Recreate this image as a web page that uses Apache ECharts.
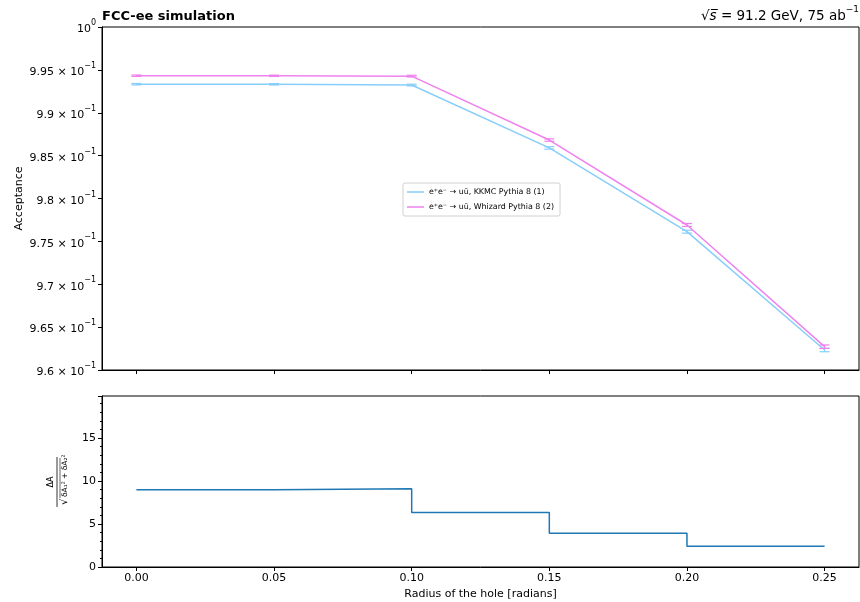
<!DOCTYPE html>
<html>
<head>
<meta charset="utf-8">
<script src="https://cdn.jsdelivr.net/npm/echarts@6/dist/echarts.min.js"></script>
<style>
html,body{margin:0;padding:0;background:#fff;}
#c{width:860px;height:602px;}
</style>
</head>
<body>
<div id="c"></div>
<script>
// ---- data ----
const radius = [0.00, 0.05, 0.10, 0.15, 0.20, 0.25];
const accKKMC = [0.99333, 0.99332, 0.99323, 0.98590, 0.97613, 0.96233];
const accWhizard = [0.99432, 0.99431, 0.99427, 0.98682, 0.97691, 0.96272];
const errKKMC = [0.00008, 0.00008, 0.00010, 0.00014, 0.00017, 0.00020];
const errWhizard = [0.00008, 0.00008, 0.00010, 0.00014, 0.00017, 0.00020];
const pull = [9.0, 9.1, 6.35, 3.94, 2.42];
const xTicks = [0.00, 0.05, 0.10, 0.15, 0.20, 0.25];
const seriesNames = ['e\u207Ae\u207B \u2192 u\u016B, KKMC Pythia 8 (1)', 'e\u207Ae\u207B \u2192 u\u016B, Whizard Pythia 8 (2)'];
const colors = ['#87cefa', '#ee82ee'];
const stepColor = '#1f77b4';

const FONT = 'DejaVu Sans';
const chart = echarts.init(document.getElementById('c'), null, {renderer: 'canvas'});

function pairs(xs, ys) { return xs.map((x, i) => [x, ys[i]]); }
function errData(xs, ys, es) { return xs.map((x, i) => [x, ys[i], es[i]]); }
const stepData = radius.map((x, i) => [x, pull[Math.min(i, pull.length - 1)]]);

function errRender(color) {
  return function (params, api) {
    const x = api.value(0), y = api.value(1), e = api.value(2);
    const lo = api.coord([x, y - e]);
    const hi = api.coord([x, y + e]);
    const hw = 5;
    const st = {stroke: color, lineWidth: 1.2};
    return {
      type: 'group',
      children: [
        {type: 'line', shape: {x1: lo[0], y1: lo[1], x2: hi[0], y2: hi[1]}, style: st},
        {type: 'line', shape: {x1: lo[0] - hw, y1: lo[1], x2: lo[0] + hw, y2: lo[1]}, style: st},
        {type: 'line', shape: {x1: hi[0] - hw, y1: hi[1], x2: hi[0] + hw, y2: hi[1]}, style: st}
      ]
    };
  };
}

function yFmt(v) {
  if (Math.abs(v - 1) < 1e-9) return '{m|10}{e|0}';
  const mant = parseFloat((v * 10).toFixed(3)).toString();
  return '{m|' + mant + ' \u00D7 10}{e|\u22121}';
}

const axisLineStyle = {color: '#000', width: 1};
const labelStyle = {color: '#000', fontFamily: FONT, fontSize: 11};

const option = {
  animation: false,
  backgroundColor: '#fff',
  grid: [
    {left: 102, top: 27, width: 757, height: 343, show: true, borderColor: '#000', borderWidth: 1, containLabel: false, outerBoundsMode: 'none'},
    {left: 102, top: 396, width: 757, height: 171, show: true, borderColor: '#000', borderWidth: 1, containLabel: false, outerBoundsMode: 'none'}
  ],
  legend: {
    data: seriesNames.map(n => ({name: n, icon: 'rect'})),
    left: 403, top: 183,
    orient: 'vertical',
    itemWidth: 17, itemHeight: 1.5, itemGap: 7,
    padding: [5, 6, 5, 4],
    backgroundColor: '#fff',
    borderColor: '#d0d0d0', borderWidth: 1, borderRadius: 2,
    textStyle: {fontFamily: FONT, fontSize: 7.9, color: '#000'}
  },
  xAxis: [
    {
      gridIndex: 0, type: 'value', min: -0.0125, max: 0.2625,
      axisLine: {show: true, onZero: false, lineStyle: axisLineStyle},
      axisTick: {show: true, length: 4, customValues: xTicks, lineStyle: axisLineStyle},
      axisLabel: {show: false, customValues: xTicks},
      splitLine: {show: false}
    },
    {
      gridIndex: 1, type: 'value', min: -0.0125, max: 0.2625,
      axisLine: {show: true, onZero: false, lineStyle: axisLineStyle},
      axisTick: {show: true, length: 4, customValues: xTicks, lineStyle: axisLineStyle},
      axisLabel: Object.assign({customValues: xTicks, margin: 6, formatter: v => v.toFixed(2)}, labelStyle),
      splitLine: {show: false},
      name: 'Radius of the hole [radians]', nameLocation: 'middle', nameGap: 22, nameMoveOverlap: false,
      nameTextStyle: {fontFamily: FONT, fontSize: 11, color: '#000'}
    }
  ],
  yAxis: [
    {
      gridIndex: 0, type: 'value', min: 0.96, max: 1.0, interval: 0.005,
      axisLine: {show: true, onZero: false, lineStyle: axisLineStyle},
      axisTick: {show: true, length: 4, lineStyle: axisLineStyle},
      axisLabel: {
        margin: 6, formatter: yFmt,
        rich: {
          m: {fontFamily: FONT, fontSize: 11, color: '#000', lineHeight: 16, verticalAlign: 'bottom'},
          e: {fontFamily: FONT, fontSize: 8, color: '#000', lineHeight: 16, verticalAlign: 'top'}
        }
      },
      splitLine: {show: false},
      name: 'Acceptance', nameLocation: 'middle', nameGap: 77, nameRotate: 90, nameMoveOverlap: false,
      nameTextStyle: {fontFamily: FONT, fontSize: 11, color: '#000'}
    },
    {
      gridIndex: 1, type: 'value', min: 0, max: 19.9, interval: 5,
      axisLine: {show: true, onZero: false, lineStyle: axisLineStyle},
      axisTick: {show: true, length: 4, lineStyle: axisLineStyle},
      minorTick: {show: true, splitNumber: 5, length: 2, lineStyle: axisLineStyle},
      axisLabel: Object.assign({margin: 6, showMaxLabel: false}, labelStyle),
      splitLine: {show: false}
    }
  ],
  series: [
    {
      name: seriesNames[0], type: 'line', xAxisIndex: 0, yAxisIndex: 0,
      data: pairs(radius, accKKMC), symbol: 'none', color: colors[0],
      lineStyle: {color: colors[0], width: 1.5}, z: 2
    },
    {
      name: seriesNames[1], type: 'line', xAxisIndex: 0, yAxisIndex: 0,
      data: pairs(radius, accWhizard), symbol: 'none', color: colors[1],
      lineStyle: {color: colors[1], width: 1.5}, z: 3
    },
    {
      type: 'custom', xAxisIndex: 0, yAxisIndex: 0, data: errData(radius, accKKMC, errKKMC),
      renderItem: errRender(colors[0]), z: 2, encode: {x: 0, y: 1}
    },
    {
      type: 'custom', xAxisIndex: 0, yAxisIndex: 0, data: errData(radius, accWhizard, errWhizard),
      renderItem: errRender(colors[1]), z: 3, encode: {x: 0, y: 1}
    },
    {
      type: 'line', xAxisIndex: 1, yAxisIndex: 1, data: stepData, step: 'end',
      symbol: 'none', lineStyle: {color: stepColor, width: 1.5}, color: stepColor
    }
  ],
  graphic: [
    {
      type: 'text', left: 102, top: 10,
      style: {text: 'FCC-ee simulation', fontFamily: FONT, fontSize: 13, fontWeight: 'bold', fill: '#000'}
    },
    {
      type: 'text', right: 1, top: 5,
      style: {
        text: '{r|\u221A}{s|s\u0305}{n| = 91.2 GeV, 75 ab}{e|\u22121}',
        rich: {
          r: {fontFamily: FONT, fontSize: 13.5, fill: '#000', lineHeight: 18, verticalAlign: 'bottom'},
          s: {fontFamily: FONT, fontSize: 13.5, fontStyle: 'italic', fill: '#000', lineHeight: 18, verticalAlign: 'bottom'},
          n: {fontFamily: FONT, fontSize: 13.5, fill: '#000', lineHeight: 18, verticalAlign: 'bottom'},
          e: {fontFamily: FONT, fontSize: 9, fill: '#000', lineHeight: 18, verticalAlign: 'top'}
        }
      }
    },
    {
      type: 'group', x: 57, y: 482, rotation: Math.PI / 2,
      children: [
        {type: 'text', x: 0, y: -2, style: {text: '\u0394A', fontFamily: FONT, fontSize: 8, fill: '#000', align: 'center', verticalAlign: 'bottom'}},
        {type: 'line', shape: {x1: -25, y1: 0, x2: 25, y2: 0}, style: {stroke: '#000', lineWidth: 0.8}},
        {type: 'text', x: -23, y: 2, style: {text: '\u221A', fontFamily: FONT, fontSize: 10, fill: '#000', align: 'left', verticalAlign: 'top'}},
        {type: 'line', shape: {x1: -16, y1: 3, x2: 24, y2: 3}, style: {stroke: '#000', lineWidth: 0.6}},
        {type: 'text', x: -15, y: 4, style: {text: '\u03B4A\u2081\u00B2 + \u03B4A\u2082\u00B2', fontFamily: FONT, fontSize: 7.5, fill: '#000', align: 'left', verticalAlign: 'top'}}
      ]
    }
  ]
};
chart.setOption(option);
</script>
</body>
</html>
